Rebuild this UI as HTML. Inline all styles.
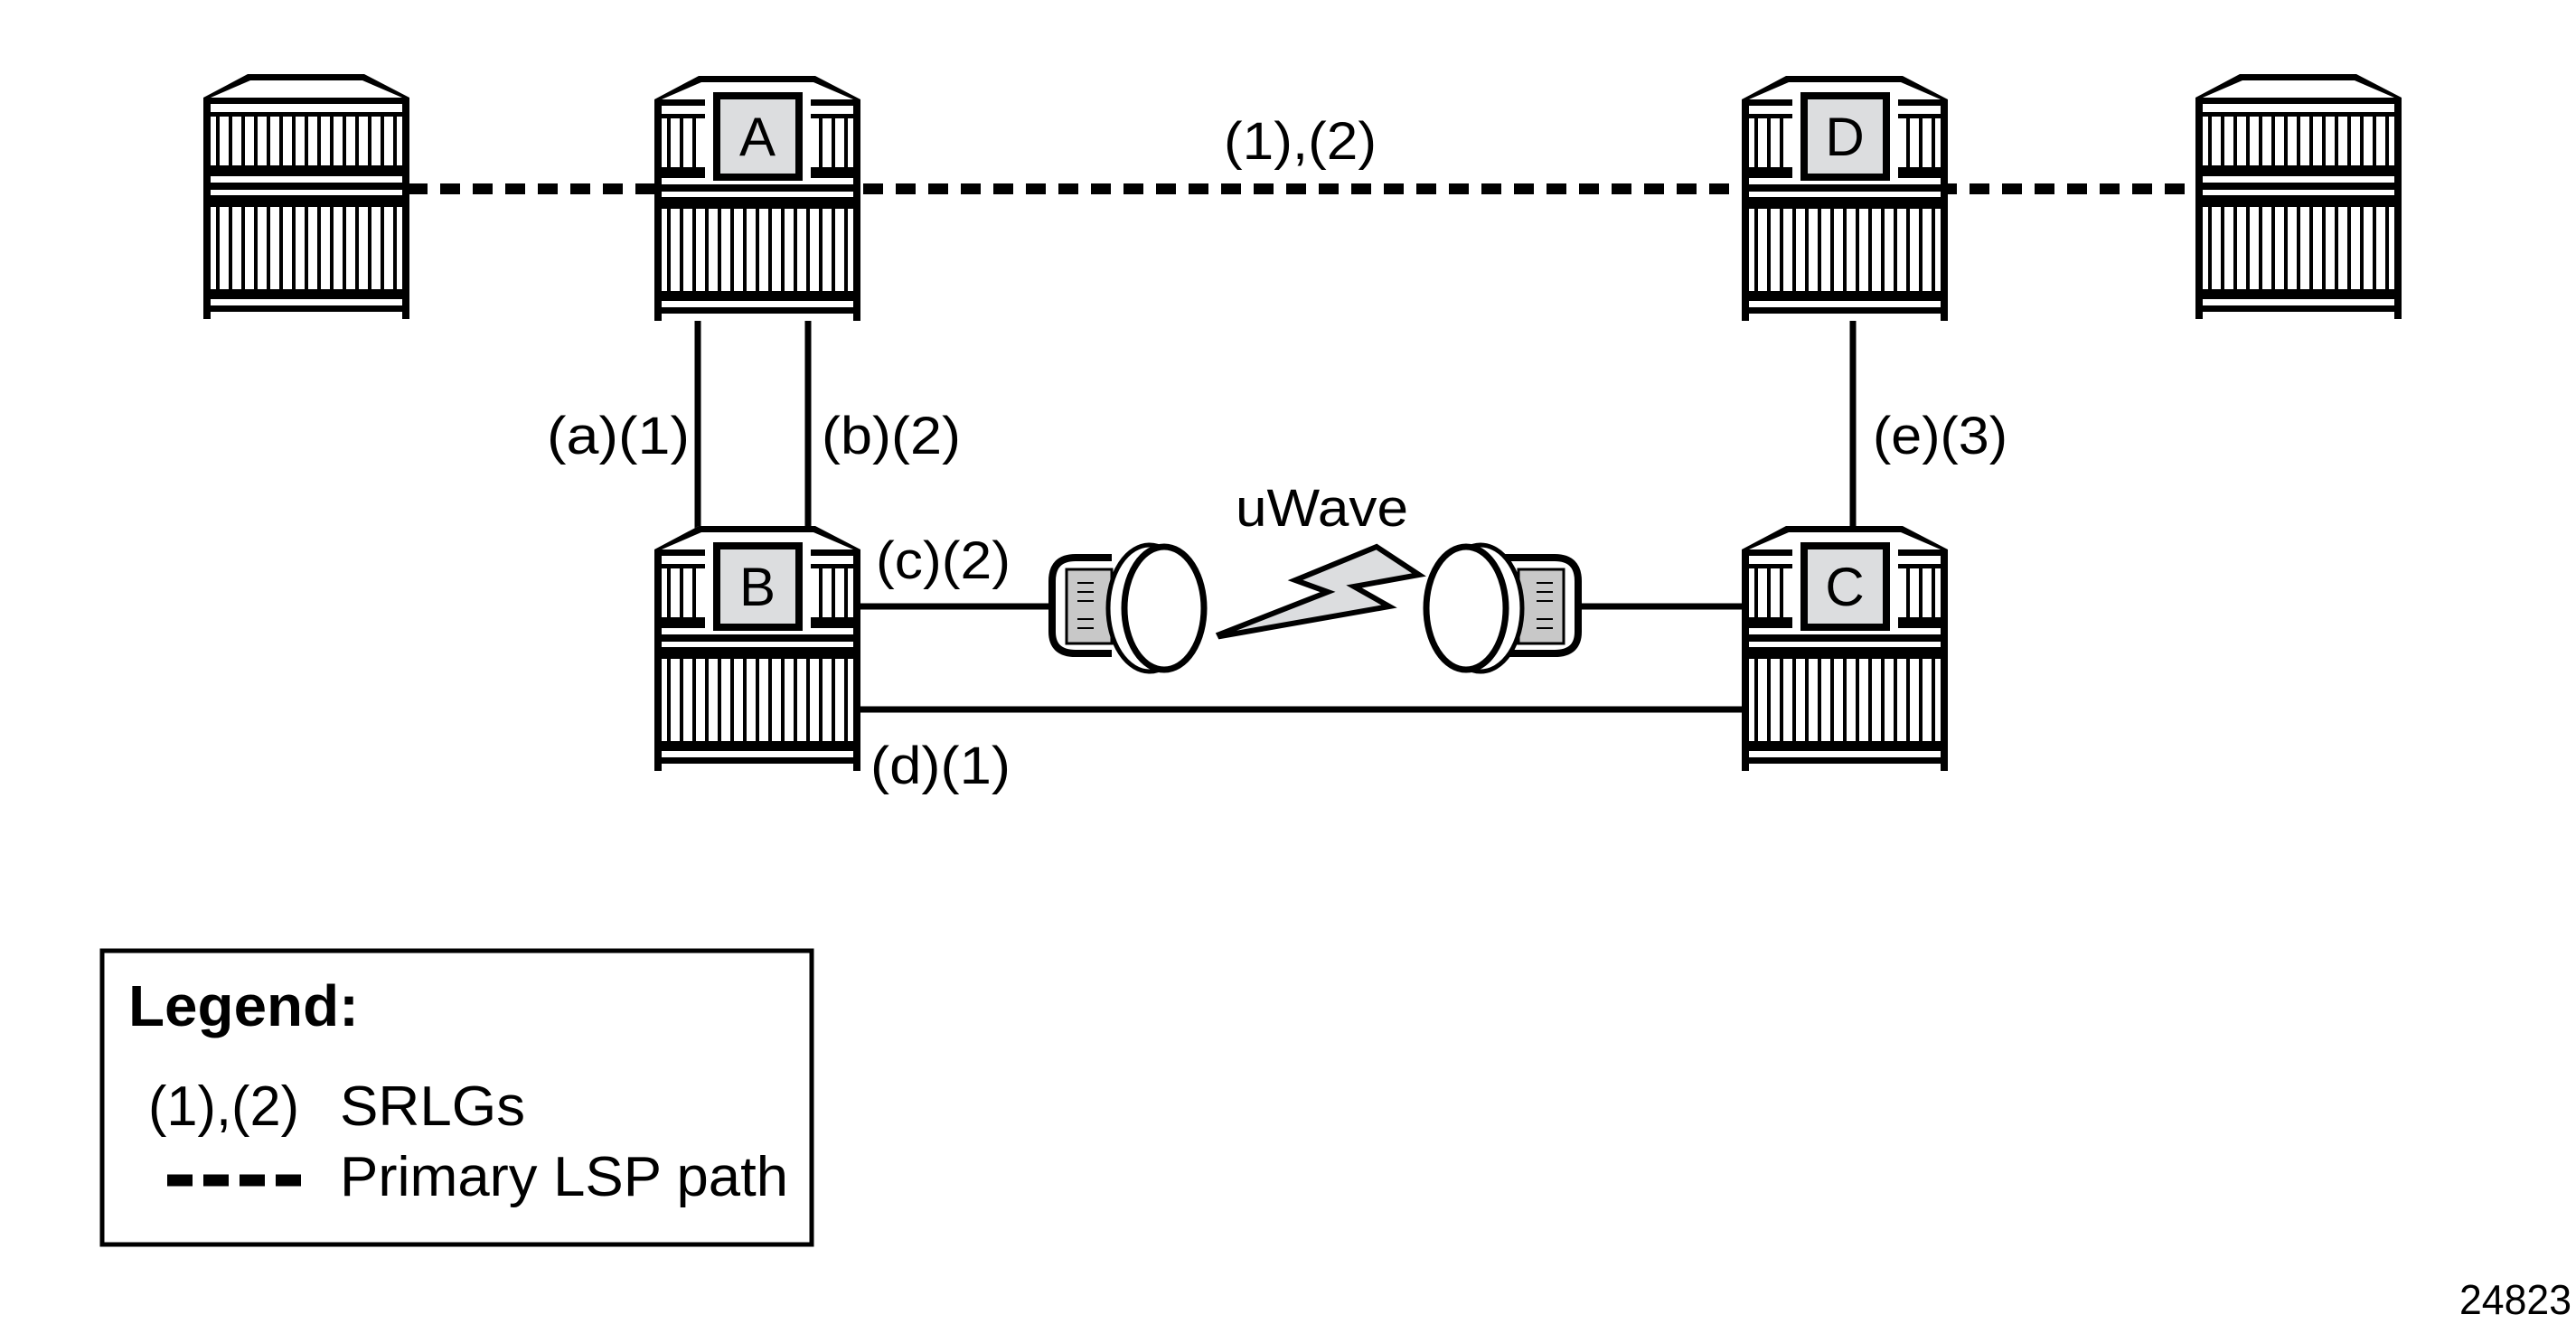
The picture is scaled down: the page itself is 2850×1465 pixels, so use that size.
<!DOCTYPE html>
<html><head><meta charset="utf-8"><style>html,body{margin:0;padding:0;background:#fff}svg{display:block}</style></head>
<body>
<svg width="2850" height="1465" viewBox="0 0 2850 1465" xmlns="http://www.w3.org/2000/svg" font-family="Liberation Sans, Arial, sans-serif">
<defs>
<g id="rt">
  <polygon points="0,26 49,0 178,0 228,26 228,263 0,263" fill="#fff"/>
  <polygon points="0,26 49,0 178,0 228,26 220,26 176,7 52,7 8,26" fill="#000"/>
  <rect x="0" y="26" width="8" height="245" fill="#000"/>
  <rect x="220" y="26" width="8" height="245" fill="#000"/>
  <rect x="0" y="26" width="228" height="7" fill="#000"/>
  <rect x="0" y="42" width="228" height="5" fill="#000"/>
  <rect x="0" y="101" width="228" height="12" fill="#000"/>
  <rect x="0" y="120" width="228" height="8" fill="#000"/>
  <rect x="0" y="134" width="228" height="13" fill="#000"/>
  <rect x="0" y="238" width="228" height="11" fill="#000"/>
  <rect x="0" y="256" width="228" height="7" fill="#000"/>
  <g fill="#000">
    <rect x="14" y="47" width="4" height="54"/><rect x="28" y="47" width="4" height="54"/><rect x="42" y="47" width="4" height="54"/><rect x="56" y="47" width="4" height="54"/><rect x="70" y="47" width="4" height="54"/><rect x="84" y="47" width="4" height="54"/><rect x="98" y="47" width="4" height="54"/><rect x="112" y="47" width="4" height="54"/><rect x="126" y="47" width="4" height="54"/><rect x="140" y="47" width="4" height="54"/><rect x="154" y="47" width="4" height="54"/><rect x="168" y="47" width="4" height="54"/><rect x="182" y="47" width="4" height="54"/><rect x="196" y="47" width="4" height="54"/><rect x="210" y="47" width="4" height="54"/>
    <rect x="14" y="147" width="4" height="91"/><rect x="28" y="147" width="4" height="91"/><rect x="42" y="147" width="4" height="91"/><rect x="56" y="147" width="4" height="91"/><rect x="70" y="147" width="4" height="91"/><rect x="84" y="147" width="4" height="91"/><rect x="98" y="147" width="4" height="91"/><rect x="112" y="147" width="4" height="91"/><rect x="126" y="147" width="4" height="91"/><rect x="140" y="147" width="4" height="91"/><rect x="154" y="147" width="4" height="91"/><rect x="168" y="147" width="4" height="91"/><rect x="182" y="147" width="4" height="91"/><rect x="196" y="147" width="4" height="91"/><rect x="210" y="147" width="4" height="91"/>
  </g>
</g>
<g id="lb">
  <rect x="56" y="20" width="117" height="100" fill="#fff"/>
  <rect x="69" y="22" width="91" height="90" fill="#dcdddf" stroke="#000" stroke-width="8"/>
</g>
</defs>

<!-- dashed primary LSP path -->
<line x1="451" y1="209" x2="2430" y2="209" stroke="#000" stroke-width="12" stroke-dasharray="22 14"/>

<!-- solid links -->
<g stroke="#000" stroke-width="7">
  <line x1="772" y1="355" x2="772" y2="590"/>
  <line x1="894" y1="355" x2="894" y2="590"/>
  <line x1="2050" y1="355" x2="2050" y2="590"/>
  <line x1="949" y1="671" x2="1165" y2="671"/>
  <line x1="1744" y1="671" x2="1930" y2="671"/>
  <line x1="949" y1="785" x2="1930" y2="785"/>
</g>

<!-- routers -->
<use href="#rt" x="225" y="82"/>
<use href="#rt" x="724" y="84"/>
<use href="#lb" x="724" y="84"/>
<use href="#rt" x="1927" y="84"/>
<use href="#lb" x="1927" y="84"/>
<use href="#rt" x="2429" y="82"/>
<use href="#rt" x="724" y="582"/>
<use href="#lb" x="724" y="582"/>
<use href="#rt" x="1927" y="582"/>
<use href="#lb" x="1927" y="582"/>

<g font-size="60" text-anchor="middle">
  <text x="838" y="172">A</text>
  <text x="2041" y="172">D</text>
  <text x="838" y="670">B</text>
  <text x="2041" y="670">C</text>
</g>

<!-- dishes -->
<g stroke="#000" stroke-width="8">
  <path d="M1230,617 L1190,617 Q1164,617 1164,643 L1164,699 Q1164,723 1190,723 L1230,723" fill="#fff"/>
  <rect x="1180" y="630" width="50" height="82" fill="#c8c8c8" stroke-width="3"/>
  <ellipse cx="1272" cy="673" rx="46" ry="70" fill="#fff" stroke-width="5"/>
  <ellipse cx="1288" cy="673" rx="44" ry="68" fill="#fff" stroke-width="7"/>
  <path d="M1650,617 L1720,617 Q1746,617 1746,643 L1746,699 Q1746,723 1720,723 L1650,723" fill="#fff"/>
  <rect x="1680" y="630" width="50" height="82" fill="#c8c8c8" stroke-width="3"/>
  <ellipse cx="1638" cy="673" rx="46" ry="70" fill="#fff" stroke-width="5"/>
  <ellipse cx="1622" cy="673" rx="44" ry="68" fill="#fff" stroke-width="7"/>
</g>
<g stroke="#000" stroke-width="2">
  <line x1="1192" y1="645" x2="1210" y2="645"/><line x1="1192" y1="655" x2="1210" y2="655"/><line x1="1192" y1="665" x2="1210" y2="665"/><line x1="1192" y1="685" x2="1210" y2="685"/><line x1="1192" y1="695" x2="1210" y2="695"/>
  <line x1="1700" y1="645" x2="1718" y2="645"/><line x1="1700" y1="655" x2="1718" y2="655"/><line x1="1700" y1="665" x2="1718" y2="665"/><line x1="1700" y1="685" x2="1718" y2="685"/><line x1="1700" y1="695" x2="1718" y2="695"/>
</g>
<polygon points="1349,702 1469,655 1433,642 1523,605 1570,636 1498,649 1537,671 1350,704" fill="#dcdddf" stroke="#000" stroke-width="6" stroke-linejoin="miter"/>

<!-- labels -->
<g font-size="58">
  <text x="1354" y="176" textLength="169" lengthAdjust="spacingAndGlyphs">(1),(2)</text>
  <text x="605" y="502" textLength="158" lengthAdjust="spacingAndGlyphs">(a)(1)</text>
  <text x="909" y="502" textLength="154" lengthAdjust="spacingAndGlyphs">(b)(2)</text>
  <text x="2072" y="502" textLength="149" lengthAdjust="spacingAndGlyphs">(e)(3)</text>
  <text x="1367" y="582" textLength="191" lengthAdjust="spacingAndGlyphs">uWave</text>
  <text x="969" y="640" textLength="149" lengthAdjust="spacingAndGlyphs">(c)(2)</text>
  <text x="963" y="867" textLength="155" lengthAdjust="spacingAndGlyphs">(d)(1)</text>
</g>
<text x="2721" y="1454" font-size="46" textLength="124" lengthAdjust="spacingAndGlyphs">24823</text>

<!-- legend -->
<rect x="113" y="1052" width="785" height="325" fill="none" stroke="#000" stroke-width="5"/>
<text x="142" y="1135" font-size="64" font-weight="bold" textLength="255" lengthAdjust="spacingAndGlyphs">Legend:</text>
<text x="164" y="1245" font-size="62" textLength="167" lengthAdjust="spacingAndGlyphs">(1),(2)</text>
<text x="376" y="1245" font-size="62" textLength="205" lengthAdjust="spacingAndGlyphs">SRLGs</text>
<line x1="185" y1="1306" x2="333" y2="1306" stroke="#000" stroke-width="13" stroke-dasharray="28 12"/>
<text x="376" y="1323" font-size="62" textLength="496" lengthAdjust="spacingAndGlyphs">Primary LSP path</text>
</svg>
</body></html>
